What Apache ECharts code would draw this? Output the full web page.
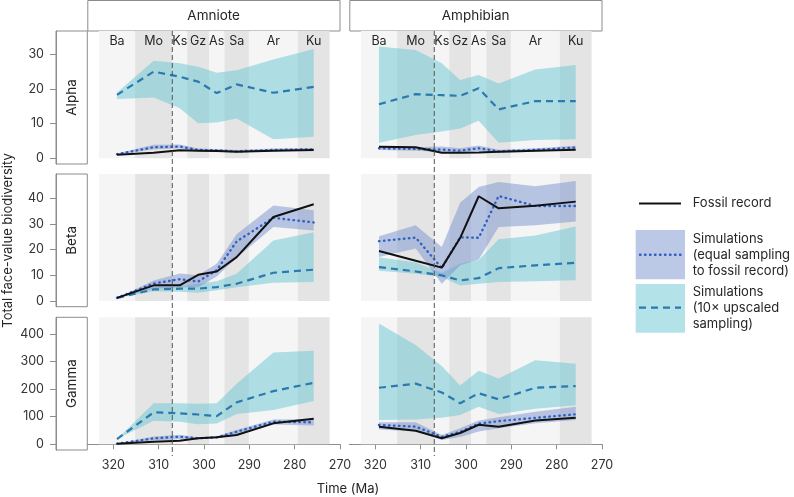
<!DOCTYPE html>
<html><head><meta charset="utf-8">
<script src="https://cdn.jsdelivr.net/npm/echarts@6/dist/echarts.min.js"></script>
<style>html,body{margin:0;padding:0;background:#fff}#c{width:794px;height:497px}</style>
</head><body><div id="c"></div>
<script>
// ---------- data ----------
const times = [319.2, 311.1, 305.35, 301.3, 297.2, 292.8, 284.7, 275.8];
const stageNames = ['Ba', 'Mo', 'Ks', 'Gz', 'As', 'Sa', 'Ar', 'Ku'];
const stageBounds = [323.2, 315.2, 307.0, 303.7, 298.9, 295.5, 290.1, 279.3, 272.3];
const xTicks = [320, 310, 300, 290, 280, 270];
const alphaTicks = [0, 10, 20, 30];
const betaTicks = [0, 10, 20, 30, 40];
const gammaTicks = [0, 100, 200, 300, 400];
const markerTime = 307.0;
const cladeNames = ['Amniote', 'Amphibian'];
const metricNames = ['Alpha', 'Beta', 'Gamma'];

// Amniote Alpha
const amnAlphaFossil = [1.0, 1.6, 2.3, 2.2, 2.1, 1.9, 2.2, 2.4];
const amnAlphaEq     = [1.2, 3.2, 3.4, 2.4, 2.3, 2.0, 2.4, 2.6];
const amnAlphaEqLo   = [1.0, 2.6, 2.8, 2.0, 1.9, 1.7, 2.0, 2.2];
const amnAlphaEqHi   = [1.4, 3.9, 4.0, 2.8, 2.7, 2.4, 2.8, 3.0];
const amnAlphaUp     = [18.3, 25.0, 23.5, 22.1, 18.8, 21.3, 18.9, 20.6];
const amnAlphaUpLo   = [17.1, 17.5, 14.4, 10.1, 10.3, 11.5, 5.5, 6.2];
const amnAlphaUpHi   = [19.0, 28.1, 27.4, 26.4, 24.7, 25.4, 28.5, 31.5];
// Amphibian Alpha
const amphAlphaFossil = [3.3, 3.2, 1.6, 1.6, 1.7, 1.9, 2.2, 2.5];
const amphAlphaEq     = [2.9, 2.7, 2.5, 2.2, 2.9, 2.0, 2.4, 3.1];
const amphAlphaEqLo   = [2.4, 2.2, 1.8, 1.6, 2.1, 1.5, 1.9, 2.5];
const amphAlphaEqHi   = [3.4, 3.2, 3.4, 2.9, 3.7, 2.5, 2.9, 3.6];
const amphAlphaUp     = [15.6, 18.5, 18.2, 18.0, 20.2, 14.1, 16.5, 16.5];
const amphAlphaUpLo   = [4.5, 6.7, 7.7, 8.6, 10.8, 4.5, 5.3, 5.5];
const amphAlphaUpHi   = [32.2, 31.2, 27.4, 22.6, 24.0, 21.6, 25.6, 26.9];
// Amniote Beta
const amnBetaFossil = [1.2, 6.1, 6.1, 10.2, 11.5, 17.1, 32.7, 37.7];
const amnBetaEq     = [1.2, 6.8, 8.5, 7.6, 12.0, 23.2, 32.4, 30.6];
const amnBetaEqLo   = [1.2, 4.8, 5.4, 5.4, 9.5, 16.8, 28.8, 27.5];
const amnBetaEqHi   = [1.2, 8.0, 10.7, 10.0, 14.5, 26.0, 37.2, 35.3];
const amnBetaUp     = [1.2, 4.5, 4.8, 4.8, 5.4, 6.7, 11.0, 12.2];
const amnBetaUpLo   = [1.2, 3.8, 3.6, 3.2, 4.2, 5.4, 7.1, 7.4];
const amnBetaUpHi   = [1.2, 5.4, 5.6, 6.7, 7.7, 10.6, 23.6, 26.8];
// Amphibian Beta
const amphBetaFossil = [19.5, 15.7, 13.0, 24.5, 40.8, 36.1, 37.1, 38.7];
const amphBetaEq     = [23.3, 24.7, 12.8, 24.8, 24.6, 40.9, 37.0, 37.0];
const amphBetaEqLo   = [17.1, 20.4, 6.7, 13.9, 16.2, 28.8, 29.5, 31.0];
const amphBetaEqHi   = [25.2, 29.5, 21.0, 38.3, 44.4, 46.3, 44.7, 46.7];
const amphBetaUp     = [13.2, 11.5, 10.0, 8.0, 8.9, 12.8, 13.9, 14.9];
const amphBetaUpLo   = [11.8, 10.6, 9.3, 6.0, 6.7, 7.4, 7.7, 8.1];
const amphBetaUpHi   = [17.0, 15.0, 11.0, 14.5, 16.0, 24.0, 25.5, 29.0];
// Amniote Gamma
const amnGammaFossil = [2, 9.4, 13, 21.7, 25.4, 33.7, 76, 93];
const amnGammaEq     = [2, 21.7, 27.5, 21.7, 25, 45.7, 82, 80];
const amnGammaEqLo   = [2, 15, 18, 18, 22, 32, 72, 68];
const amnGammaEqHi   = [2, 28, 35, 25, 29, 52, 90, 92];
const amnGammaUp     = [19, 116, 112, 108, 102, 152, 193, 223];
const amnGammaUpLo   = [19, 85, 82, 73, 75, 110, 124, 157];
const amnGammaUpHi   = [19, 149, 149, 147, 149, 220, 333, 339];
// Amphibian Gamma
const amphGammaFossil = [64, 49, 22, 41, 71, 64, 86, 96];
const amphGammaEq     = [70, 64, 27, 45, 75, 84, 96, 109];
const amphGammaEqLo   = [54, 46, 16, 26, 46, 58, 76, 88];
const amphGammaEqHi   = [80, 80, 34, 58, 86, 98, 118, 136];
const amphGammaUp     = [205, 220, 188, 149, 185, 163, 205, 211];
const amphGammaUpLo   = [88, 90, 96, 106, 136, 110, 129, 142];
const amphGammaUpHi   = [438, 360, 284, 213, 267, 239, 305, 292];

const panelData = [
  [[amnAlphaFossil, amnAlphaEq, amnAlphaEqLo, amnAlphaEqHi, amnAlphaUp, amnAlphaUpLo, amnAlphaUpHi],
   [amphAlphaFossil, amphAlphaEq, amphAlphaEqLo, amphAlphaEqHi, amphAlphaUp, amphAlphaUpLo, amphAlphaUpHi]],
  [[amnBetaFossil, amnBetaEq, amnBetaEqLo, amnBetaEqHi, amnBetaUp, amnBetaUpLo, amnBetaUpHi],
   [amphBetaFossil, amphBetaEq, amphBetaEqLo, amphBetaEqHi, amphBetaUp, amphBetaUpLo, amphBetaUpHi]],
  [[amnGammaFossil, amnGammaEq, amnGammaEqLo, amnGammaEqHi, amnGammaUp, amnGammaUpLo, amnGammaUpHi],
   [amphGammaFossil, amphGammaEq, amphGammaEqLo, amphGammaEqHi, amphGammaUp, amphGammaUpLo, amphGammaUpHi]]
];

// ---------- layout / style ----------
const FONT = 'Inter, "Liberation Sans", sans-serif';
const colLeft = [87.3, 349.3], colW = 252.7;
const rowTop = [31, 174, 317.3], rowH = [133, 132.7, 132.7];
const yRange = [[-1.64, 36.7], [-2.22, 49.46], [-20.7, 460.6]];
const yTickSets = [alphaTicks, betaTicks, gammaTicks];
const xMin = 270, xMax = 325.75;
const AXIS = '#8c8c8c';
const TXT = '#262626';
const bandLight = '#f5f5f5', bandDark = '#e4e4e4';
const cyanFill = 'rgba(110,200,213,0.52)';
const blueFill = 'rgba(120,146,205,0.5)';
const dashColor = '#2b79ad';
const dotColor = '#2f5fc2';

const grids = [], xAxes = [], yAxes = [], series = [];
for (let r = 0; r < 3; r++) {
  for (let c = 0; c < 2; c++) {
    const g = r * 2 + c;
    const yTop = yRange[r][1];
    grids.push({left: colLeft[c], top: rowTop[r], width: colW, height: rowH[r], containLabel: false, outerBoundsMode: 'none'});
    xAxes.push({
      type: 'value', gridIndex: g, min: xMin, max: xMax, inverse: true, show: r === 2,
      axisLine: {show: true, lineStyle: {color: AXIS, width: 1}},
      axisTick: {show: true, length: 5, customValues: xTicks, lineStyle: {color: AXIS}},
      axisLabel: {customValues: xTicks, margin: 9, fontSize: 12.5, color: '#333', fontFamily: FONT},
      splitLine: {show: false}
    });
    yAxes.push({
      type: 'value', gridIndex: g, min: yRange[r][0], max: yRange[r][1], show: c === 0,
      position: 'left', offset: 31.3,
      axisLine: {show: true, lineStyle: {color: AXIS, width: 1}},
      axisTick: {show: true, length: 6, customValues: yTickSets[r], lineStyle: {color: AXIS}},
      axisLabel: {customValues: yTickSets[r], margin: 12, fontSize: 12.5, color: '#333', fontFamily: FONT},
      splitLine: {show: false}
    });
    // stage background bands (+ labels in top row)
    series.push({
      type: 'custom', xAxisIndex: g, yAxisIndex: g, z: 1, silent: true,
      data: stageNames.map((n, i) => [stageBounds[i], stageBounds[i + 1], i]),
      encode: {x: [0, 1], y: 2},
      renderItem: (params, api) => {
        const i = params.dataIndex;
        const p0 = api.coord([api.value(0), 0]);
        const p1 = api.coord([api.value(1), yTop]);
        const x0 = Math.min(p0[0], p1[0]), w = Math.abs(p1[0] - p0[0]);
        const children = [{type: 'rect', shape: {x: x0, y: p1[1], width: w, height: p0[1] - p1[1]},
          style: {fill: i % 2 === 0 ? bandLight : bandDark}}];
        if (r === 0) {
          children.push({type: 'text', x: x0 + w / 2, y: p1[1] + 10.7,
            style: {text: stageNames[i], fontSize: 12.5, fontFamily: FONT, fill: TXT,
              align: 'center', verticalAlign: 'middle', textAlign: 'center', textVerticalAlign: 'middle'}});
        }
        return {type: 'group', children};
      }
    });
    const d = panelData[r][c];
    const ribbon = (lo, hi, fill, z) => ({
      type: 'custom', xAxisIndex: g, yAxisIndex: g, z, silent: true,
      data: times.map((t, i) => [t, lo[i], hi[i]]),
      encode: {x: 0, y: [1, 2]},
      renderItem: (params, api) => {
        if (params.dataIndex !== 0) return null;
        const pts = [];
        for (let i = 0; i < times.length; i++) pts.push(api.coord([times[i], hi[i]]));
        for (let i = times.length - 1; i >= 0; i--) pts.push(api.coord([times[i], lo[i]]));
        return {type: 'polygon', shape: {points: pts}, style: {fill}};
      }
    });
    series.push(ribbon(d[5], d[6], cyanFill, 2));
    series.push(ribbon(d[2], d[3], blueFill, 3));
    const line = (vals, style, z) => ({
      type: 'line', xAxisIndex: g, yAxisIndex: g, z, silent: true, symbol: 'none',
      data: times.map((t, i) => [t, vals[i]]), lineStyle: style
    });
    series.push(line(d[4], {color: dashColor, width: 2.2, type: [7, 5]}, 4));
    series.push(line(d[1], {color: dotColor, width: 2.4, type: [0.5, 4.5], cap: 'round'}, 5));
    series.push(line(d[0], {color: '#111', width: 2}, 6));
  }
}

// ---------- static graphics: strips, titles, legend ----------
const T = (text, x, y, opts) => Object.assign({type: 'text', x, y, silent: true,
  style: Object.assign({text, fontSize: 13, fontFamily: FONT, fill: TXT,
    align: 'left', verticalAlign: 'middle', textAlign: 'left', textVerticalAlign: 'middle'}, (opts && opts.style) || {})},
  opts && opts.rotation ? {rotation: opts.rotation} : {});
const C = {align: 'center', textAlign: 'center'};
const graphics = [];
for (let c = 0; c < 2; c++) {
  graphics.push({type: 'rect', silent: true, shape: {x: colLeft[c] + 0.5, y: 0.5, width: colW - 0.5, height: 30.5},
    style: {fill: '#fff', stroke: AXIS, lineWidth: 1}});
  graphics.push(T(cladeNames[c], colLeft[c] + colW / 2, 15.5, {style: Object.assign({fontSize: 13.5}, C)}));
}
for (let r = 0; r < 3; r++) {
  graphics.push({type: 'rect', silent: true, shape: {x: 56, y: rowTop[r], width: colLeft[0] - 56, height: rowH[r]},
    style: {fill: '#fff', stroke: AXIS, lineWidth: 1}});
  graphics.push(T(metricNames[r], 71.8, rowTop[r] + rowH[r] / 2, {rotation: Math.PI / 2, style: Object.assign({fontSize: 13.5}, C)}));
}
graphics.push(T('Total face-value biodiversity', 8, 240.5, {rotation: Math.PI / 2, style: Object.assign({fontSize: 13}, C)}));
graphics.push(T('Time (Ma)', 348, 489, {style: Object.assign({fontSize: 13}, C)}));
// legend
graphics.push({type: 'line', silent: true, shape: {x1: 639, y1: 203.5, x2: 681, y2: 203.5}, style: {stroke: '#111', lineWidth: 2}});
graphics.push(T('Fossil record', 692.7, 203.5));
graphics.push({type: 'rect', silent: true, shape: {x: 635.7, y: 230, width: 49.3, height: 49.3}, style: {fill: blueFill}});
graphics.push({type: 'line', silent: true, shape: {x1: 640, y1: 254.7, x2: 681, y2: 254.7}, style: {stroke: dotColor, lineWidth: 2.4, lineDash: [0.5, 4.5], lineCap: 'round'}});
graphics.push(T('Simulations', 692.7, 239.5));
graphics.push(T('(equal sampling', 692.7, 255.2));
graphics.push(T('to fossil record)', 692.7, 270.9));
graphics.push({type: 'rect', silent: true, shape: {x: 635.7, y: 284, width: 49.3, height: 48.7}, style: {fill: cyanFill}});
graphics.push({type: 'line', silent: true, shape: {x1: 639, y1: 307.7, x2: 681, y2: 307.7}, style: {stroke: dashColor, lineWidth: 2.2, lineDash: [7, 5]}});
graphics.push(T('Simulations', 692.7, 292.5));
graphics.push(T('(10\u00d7 upscaled', 692.7, 308.2));
graphics.push(T('sampling)', 692.7, 323.9));

const chart = echarts.init(document.getElementById('c'), null, {renderer: 'canvas', width: 794, height: 497});
chart.setOption({
  animation: false,
  backgroundColor: '#fff',
  textStyle: {fontFamily: FONT},
  grid: grids, xAxis: xAxes, yAxis: yAxes, series, graphic: graphics
});

// vertical dashed marker at the Moscovian/Kasimovian boundary, through all rows
const extra = [];
for (let c = 0; c < 2; c++) {
  const px = chart.convertToPixel({xAxisIndex: c}, markerTime);
  extra.push({type: 'line', silent: true, z: 100, shape: {x1: px, y1: 31, x2: px, y2: 456},
    style: {stroke: '#555', lineWidth: 1, lineDash: [5, 3]}});
}
chart.setOption({graphic: graphics.concat(extra)});
</script>
</body></html>
